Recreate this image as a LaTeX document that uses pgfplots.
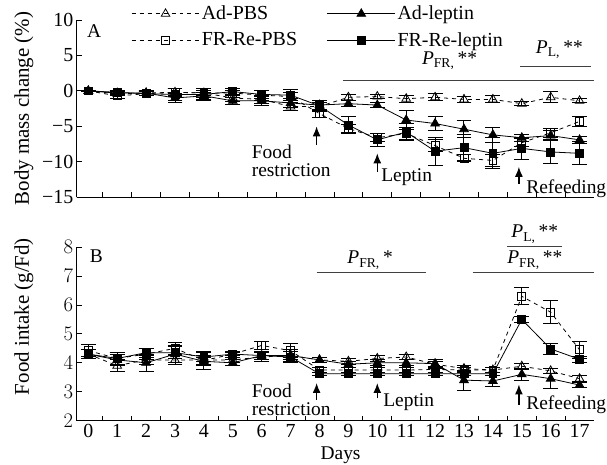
\documentclass[border=0pt]{standalone}
\usepackage{fontspec}
\setmainfont{Liberation Serif}
\usepackage{pgfplots}
\pgfplotsset{compat=1.18}
\usetikzlibrary{arrows.meta,calc}

\newcommand{\lbl}{\fontsize{19.5}{18}\selectfont}
\newcommand{\pv}[1]{\textit{P}\textsubscript{#1}\,**}

\tikzset{arr/.style={-{Latex[length=10pt,width=8pt]}, line width=1.3pt}}
\pgfplotsset{
  panel/.style={
    scale only axis, width=519pt, xmin=-0.4, xmax=17.5,
    axis x line*=bottom, axis y line*=left,
    axis line style={line width=0.8pt},
    tick align=inside, major tick length=5pt, minor tick length=5pt,
    tick style={black, line width=0.8pt},
    xtick={0,...,17}, minor xtick={0.5,1.5,...,16.5},
    major x tick style={draw=none},
    tick label style={font=\fontsize{20}{20}\selectfont},
    label style={font=\fontsize{21}{21}\selectfont},
    clip=false,
  },
  err/.style={
    error bars/y dir=both, error bars/y explicit,
    error bars/error mark options={rotate=90, mark size=7.5pt, line width=1pt, solid},
    error bars/error bar style={line width=1pt, solid},
  },
  longleg/.style={legend image code/.code={
    \draw[mark repeat=2, mark phase=2, ##1] plot coordinates {(0pt,0pt) (34pt,0pt) (68pt,0pt)};}},
  adpbs/.style={black, line width=0.8pt, dash pattern=on 4pt off 4pt,
    mark=triangle, mark size=5pt, mark options={solid, fill=white}, err, longleg},
  adlep/.style={black, line width=0.8pt, solid,
    mark=triangle*, mark size=5pt, mark options={solid, fill=black}, err, longleg},
  frpbs/.style={black, line width=0.8pt, dash pattern=on 4pt off 4pt,
    mark=square, mark size=4pt, mark options={solid, fill=white}, err, longleg},
  frlep/.style={black, line width=0.8pt, solid,
    mark=square*, mark size=4pt, mark options={solid, fill=black}, err, longleg},
}

\begin{document}
\begin{tikzpicture}
\begin{axis}[panel, name=A, height=178pt,
    ymin=-15, ymax=10, ytick={-15,-10,...,10},
    yticklabels={−15,−10,−5,0,5,10}, xticklabels={},
    ylabel={Body mass change (\%)},
    ylabel style={at={(axis description cs:-0.102,0.5)}, anchor=center},
    legend columns=2, legend cell align=left,
    legend style={at={(axis description cs:0.105,1.09)}, anchor=north west, draw=none, fill=none,
      font=\fontsize{20}{20}\selectfont, row sep=7pt, inner sep=0pt,
      /tikz/every even column/.append style={column sep=28pt}},
]
\addplot[adpbs] coordinates {
 (0,0) +- (0,0.1) (1,-0.4) +- (0,0.3) (2,-0.3) +- (0,0.3) (3,-0.2) +- (0,0.5)
 (4,-0.3) +- (0,0.4) (5,-1.0) +- (0,0.5) (6,-1.2) +- (0,0.6) (7,-2.2) +- (0,0.6)
 (8,-2.2) +- (0,0.6) (9,-0.9) +- (0,0.4) (10,-0.8) +- (0,0.3) (11,-1.1) +- (0,0.5)
 (12,-0.9) +- (0,0.5) (13,-1.2) +- (0,0.4) (14,-1.2) +- (0,0.5) (15,-1.8) +- (0,0.3)
 (16,-0.9) +- (0,0.8) (17,-1.4) +- (0,0.3)};
\addplot[adlep] coordinates {
 (0,0) +- (0,0.1) (1,-0.3) +- (0,0.3) (2,-0.3) +- (0,0.3) (3,-1.0) +- (0,0.6)
 (4,-0.7) +- (0,0.5) (5,-1.4) +- (0,0.5) (6,-1.4) +- (0,0.6) (7,-1.7) +- (0,0.6)
 (8,-2.0) +- (0,0.6) (9,-1.8) +- (0,0.4) (10,-2.0) +- (0,0.4) (11,-4.1) +- (0,1.4)
 (12,-4.6) +- (0,1.0) (13,-5.4) +- (0,1.2) (14,-6.2) +- (0,1.1) (15,-6.6) +- (0,0.5)
 (16,-6.3) +- (0,0.7) (17,-6.9) +- (0,0.5)};
\addplot[frpbs] coordinates {
 (0,0) +- (0,0.1) (1,-0.7) +- (0,0.4) (2,-0.4) +- (0,0.3) (3,-0.2) +- (0,0.6)
 (4,-0.3) +- (0,0.6) (5,-0.3) +- (0,0.4) (6,-0.6) +- (0,0.7) (7,-0.8) +- (0,0.6)
 (8,-3.2) +- (0,0.6) (9,-5.3) +- (0,0.6) (10,-6.6) +- (0,0.6) (11,-6.0) +- (0,0.8)
 (12,-7.7) +- (0,0.8) (13,-9.5) +- (0,0.5) (14,-9.8) +- (0,0.9) (15,-7.3) +- (0,0.6)
 (16,-5.9) +- (0,0.6) (17,-4.3) +- (0,0.7)};
\addplot[frlep] coordinates {
 (0,0) +- (0,0.1) (1,-0.2) +- (0,0.3) (2,-0.4) +- (0,0.3) (3,-0.5) +- (0,0.9)
 (4,-0.5) +- (0,0.8) (5,-0.1) +- (0,0.5) (6,-0.5) +- (0,0.6) (7,-0.6) +- (0,0.8)
 (8,-2.1) +- (0,0.8) (9,-4.8) +- (0,1.2) (10,-6.9) +- (0,0.9) (11,-5.8) +- (0,1.2)
 (12,-8.5) +- (0,2.0) (13,-8.0) +- (0,1.8) (14,-8.8) +- (0,2.2) (15,-8.1) +- (0,1.5)
 (16,-8.6) +- (0,1.7) (17,-8.8) +- (0,1.6)};
\legend{Ad-PBS, Ad-leptin, FR-Re-PBS, FR-Re-leptin}
\node[font=\lbl] at (axis cs:0.2,8.4) {A};
\draw[black!75, line width=1pt] (axis cs:8.8,1.5) -- (axis cs:17.5,1.5);
\node[font=\lbl] at (axis cs:12.5,4.3) {\pv{FR,}};
\draw[black!75, line width=1pt] (axis cs:14.95,3.4) -- (axis cs:17.4,3.4);
\node[font=\lbl] at (axis cs:16.3,5.8) {\pv{L,}};
\draw[arr] (axis cs:7.9,-7.6) -- (axis cs:7.9,-5.0);
\node[font=\lbl, align=left, anchor=north west, inner sep=0pt] at (axis cs:5.65,-7.6) {Food\\restriction};
\draw[arr] (axis cs:10,-11.4) -- (axis cs:10,-8.8);
\node[font=\lbl, anchor=west, inner sep=0pt] at (axis cs:10.13,-12.1) {Leptin};
\draw[arr] (axis cs:14.9,-13.1) -- (axis cs:14.9,-10.7);
\node[font=\lbl, anchor=west, inner sep=0pt] at (axis cs:15.15,-13.8) {Refeeding};
\end{axis}

\begin{axis}[panel, name=B, height=174pt,
    at={($(A.south west)+(0,-50pt)$)}, anchor=north west,
    ymin=2, ymax=8, ytick={2,...,8},
    xticklabels={0,1,2,3,4,5,6,7,8,9,10,11,12,13,14,15,16,17},
    xlabel={Days}, ylabel={Food intake (g/Fd)},
    ylabel style={at={(axis description cs:-0.102,0.6)}, anchor=center},
    xlabel style={at={(axis description cs:0.51,0)}, anchor=center, yshift=-35pt,
      font=\fontsize{19.5}{19.5}\selectfont},
]
\addplot[adpbs] coordinates {
 (0,4.3) +- (0,0.15) (1,3.9) +- (0,0.2) (2,4.1) +- (0,0.15) (3,4.1) +- (0,0.15)
 (4,4.1) +- (0,0.15) (5,4.1) +- (0,0.1) (6,4.2) +- (0,0.15) (7,4.25) +- (0,0.15)
 (8,4.1) +- (0,0.1) (9,4.05) +- (0,0.1) (10,4.15) +- (0,0.1) (11,4.2) +- (0,0.1)
 (12,3.95) +- (0,0.1) (13,3.8) +- (0,0.1) (14,3.75) +- (0,0.1) (15,3.88) +- (0,0.1)
 (16,3.72) +- (0,0.1) (17,3.45) +- (0,0.1)};
\addplot[adlep] coordinates {
 (0,4.3) +- (0,0.15) (1,4.1) +- (0,0.2) (2,4.0) +- (0,0.3) (3,4.3) +- (0,0.3)
 (4,4.05) +- (0,0.15) (5,4.0) +- (0,0.1) (6,4.25) +- (0,0.15) (7,4.25) +- (0,0.2)
 (8,4.1) +- (0,0.1) (9,3.95) +- (0,0.1) (10,4.0) +- (0,0.1) (11,4.0) +- (0,0.1)
 (12,3.97) +- (0,0.15) (13,3.4) +- (0,0.35) (14,3.37) +- (0,0.2) (15,3.6) +- (0,0.2)
 (16,3.45) +- (0,0.35) (17,3.23) +- (0,0.1)};
\addplot[frpbs] coordinates {
 (0,4.42) +- (0,0.2) (1,4.15) +- (0,0.2) (2,4.3) +- (0,0.2) (3,4.5) +- (0,0.2)
 (4,4.08) +- (0,0.3) (5,4.3) +- (0,0.1) (6,4.6) +- (0,0.15) (7,4.42) +- (0,0.25)
 (8,3.75) +- (0,0.1) (9,3.75) +- (0,0.1) (10,3.75) +- (0,0.1) (11,3.75) +- (0,0.1)
 (12,3.77) +- (0,0.1) (13,3.75) +- (0,0.1) (14,3.75) +- (0,0.1) (15,6.3) +- (0,0.3)
 (16,5.75) +- (0,0.4) (17,4.45) +- (0,0.3)};
\addplot[frlep] coordinates {
 (0,4.3) +- (0,0.15) (1,4.15) +- (0,0.2) (2,4.35) +- (0,0.15) (3,4.35) +- (0,0.2)
 (4,4.2) +- (0,0.15) (5,4.3) +- (0,0.05) (6,4.25) +- (0,0.15) (7,4.2) +- (0,0.2)
 (8,3.62) +- (0,0.05) (9,3.62) +- (0,0.05) (10,3.62) +- (0,0.05) (11,3.62) +- (0,0.05)
 (12,3.62) +- (0,0.05) (13,3.62) +- (0,0.05) (14,3.62) +- (0,0.05) (15,5.5) +- (0,0.1)
 (16,4.48) +- (0,0.2) (17,4.12) +- (0,0.1)};
\node[font=\lbl] at (axis cs:0.28,7.7) {B};
\draw[black!75, line width=1pt] (axis cs:7.9,7.12) -- (axis cs:11.7,7.12);
\node[font=\lbl] at (axis cs:9.75,7.55) {\textit{P}\textsubscript{FR,}\,*};
\draw[black!75, line width=1pt] (axis cs:13.3,7.12) -- (axis cs:17.5,7.12);
\node[font=\lbl] at (axis cs:15.45,7.55) {\pv{FR,}};
\draw[black!75, line width=1pt] (axis cs:14.5,8.02) -- (axis cs:16.4,8.02);
\node[font=\lbl] at (axis cs:15.45,8.45) {\pv{L,}};
\draw[arr] (axis cs:7.9,2.72) -- (axis cs:7.9,3.3);
\node[font=\lbl, align=left, anchor=north west, inner sep=0pt] at (axis cs:5.65,3.28) {Food\\restriction};
\draw[arr] (axis cs:10,2.77) -- (axis cs:10,3.3);
\node[font=\lbl, anchor=west, inner sep=0pt] at (axis cs:10.2,2.64) {Leptin};
\draw[arr] (axis cs:14.9,2.55) -- (axis cs:14.9,3.25);
\node[font=\lbl, anchor=west, inner sep=0pt] at (axis cs:15.15,2.55) {Refeeding};
\end{axis}
\pgfresetboundingbox
\path[use as bounding box] ($(A.north west)+(-77pt,20pt)$) rectangle ($(B.south east)+(13pt,-44pt)$);
\end{tikzpicture}
\end{document}
